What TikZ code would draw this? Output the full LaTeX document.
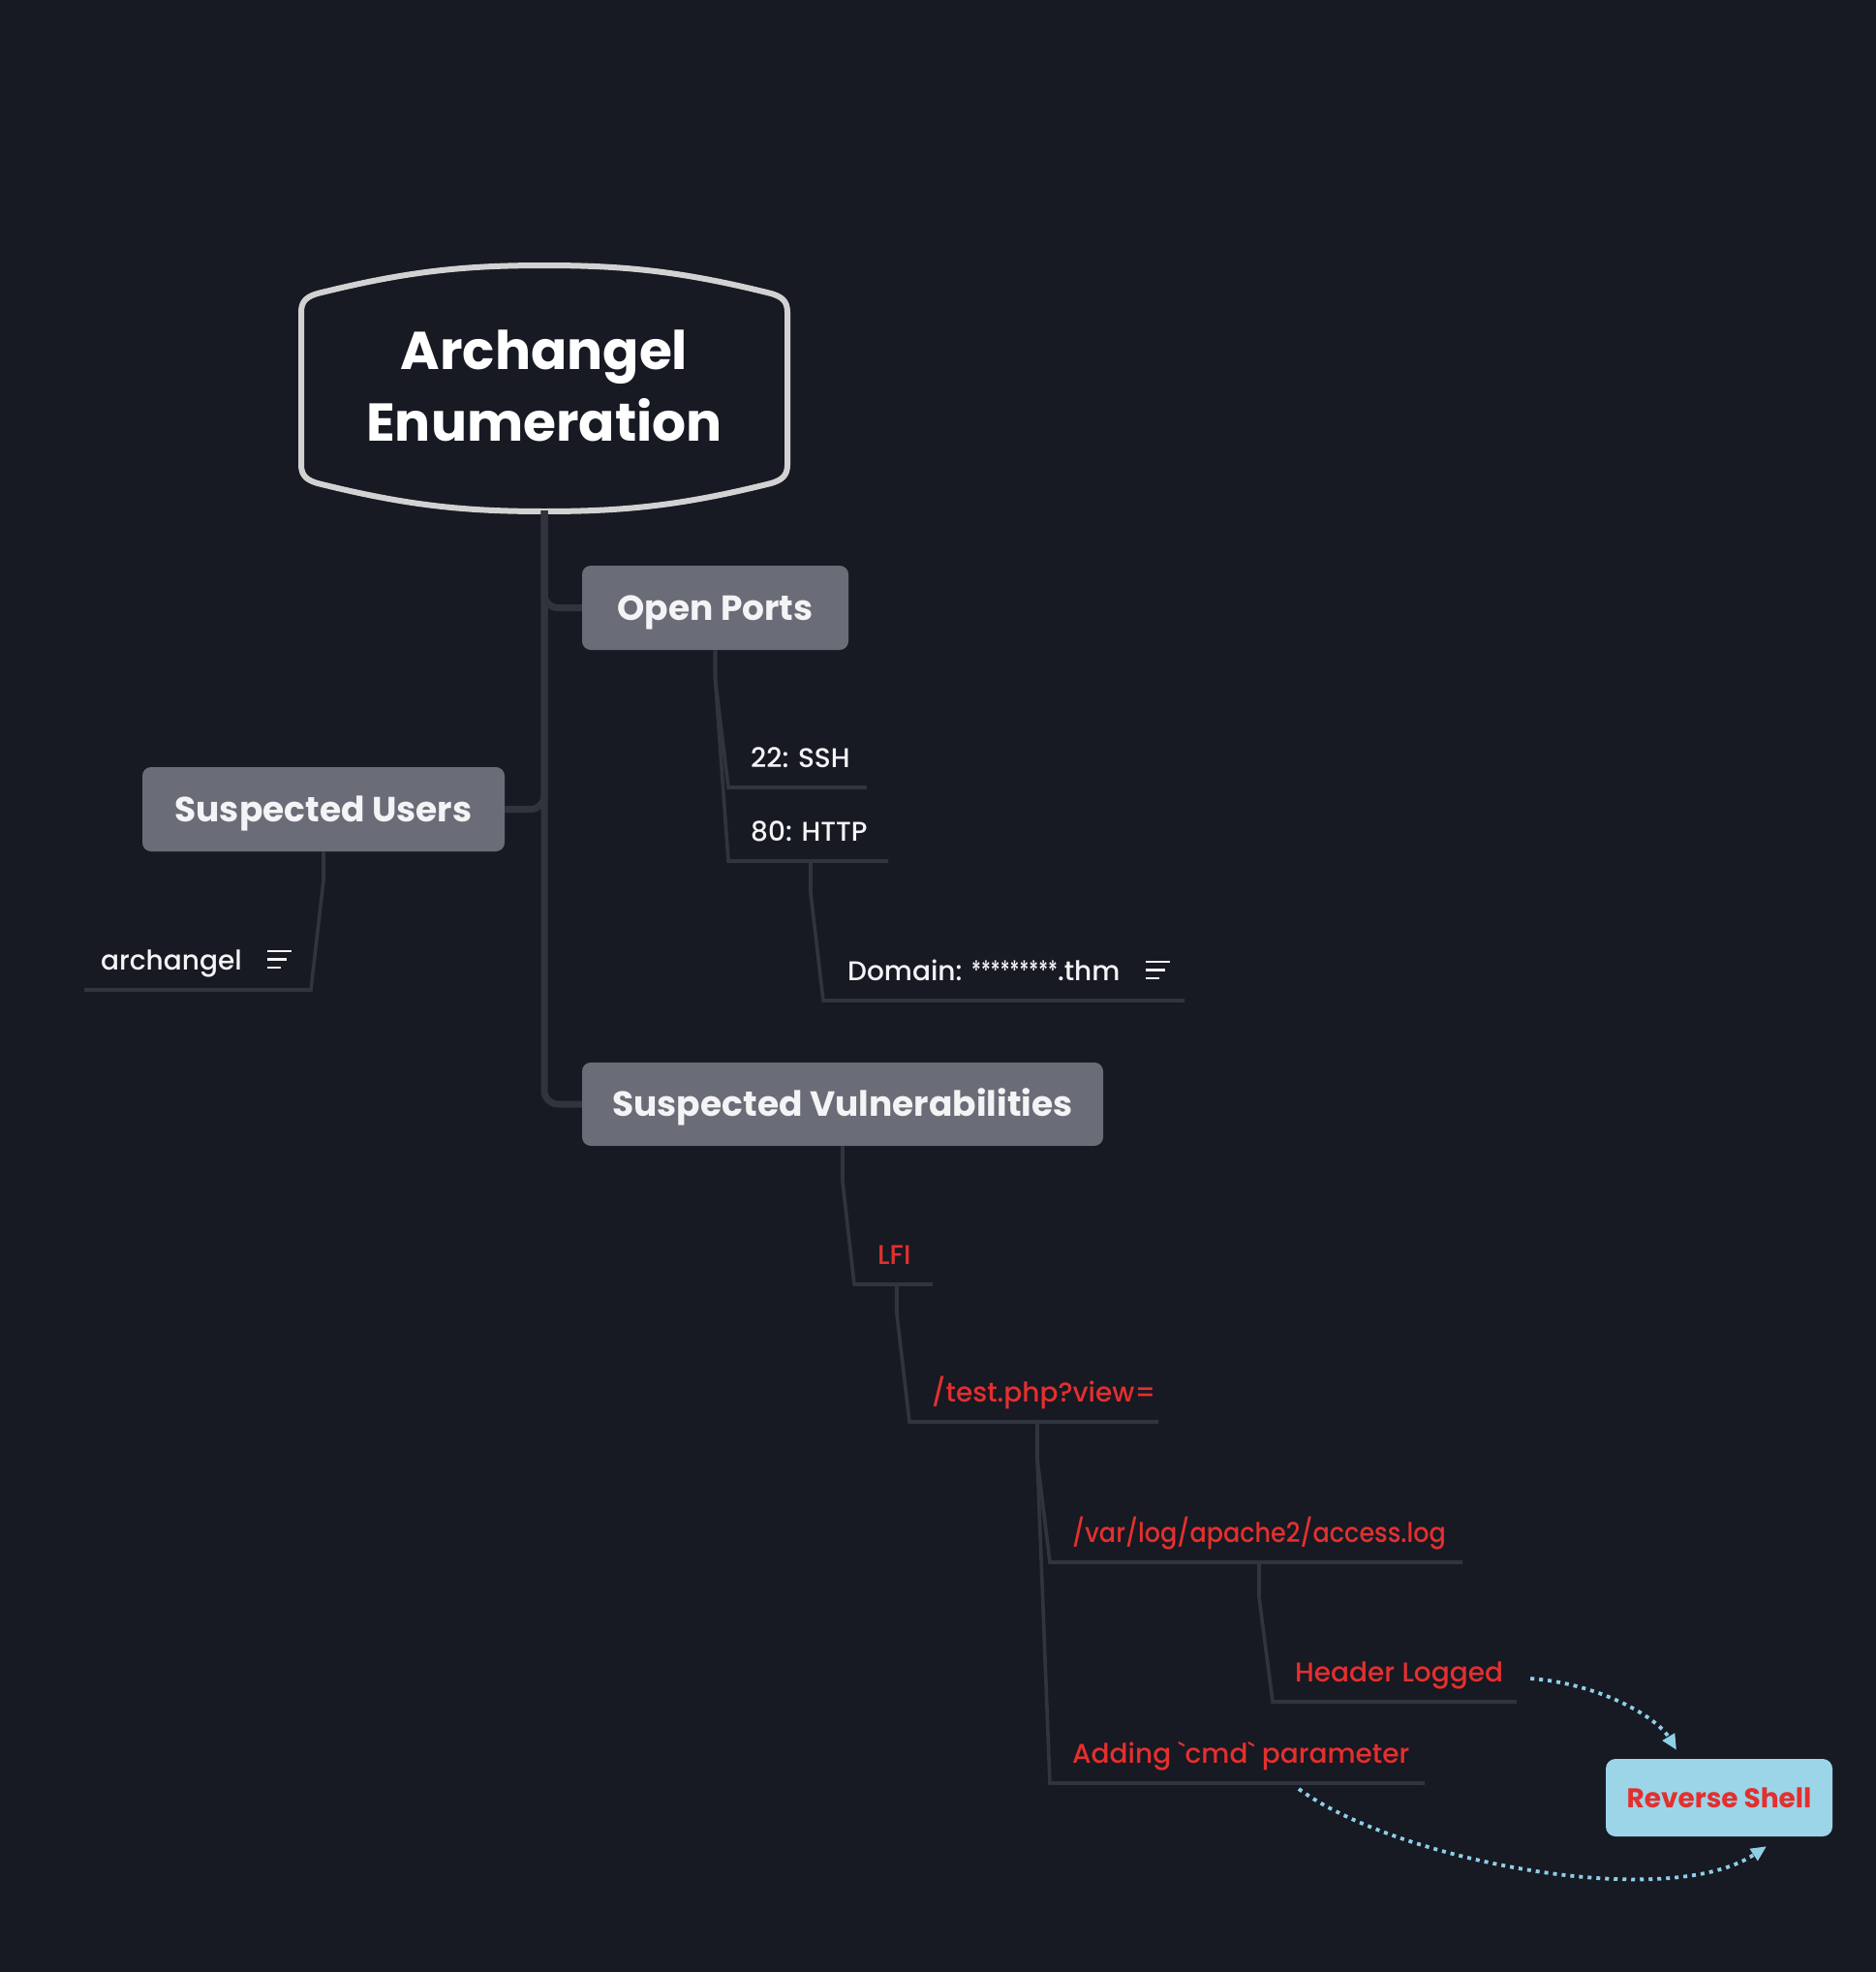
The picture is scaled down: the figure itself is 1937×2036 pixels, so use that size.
\documentclass[tikz,border=0pt]{standalone}
\usepackage{fontspec}
\usetikzlibrary{arrows.meta,calc}
\setmainfont{Poppins}
\newfontfamily\fbold{Poppins}[UprightFont=* Bold]
\newfontfamily\fsemi{Poppins}[UprightFont=* SemiBold]
\newfontfamily\fmed{Poppins}[UprightFont=* Medium]
\definecolor{bg}{HTML}{171923}
\definecolor{boxgrey}{HTML}{6A6D77}
\definecolor{conn}{HTML}{31343E}
\definecolor{rootline}{HTML}{D2D2D2}
\definecolor{vred}{HTML}{E3302E}
\definecolor{rsfill}{HTML}{9CD5E8}
\definecolor{arrowblue}{HTML}{8ECFE6}
\definecolor{txtwhite}{HTML}{F4F4F6}
\newcommand\noteicon[1]{%
  \draw[txtwhite, line width=2.6pt] ($(#1.base east)+(26,-19)$) -- ++(25,0);
  \draw[txtwhite, line width=2.6pt] ($(#1.base east)+(26,-10.5)$) -- ++(20,0);
  \draw[txtwhite, line width=2.6pt] ($(#1.base east)+(26,-2)$) -- ++(14,0);
}
\begin{document}
\begin{tikzpicture}[x=1pt,y=-1pt,
  mainbox/.style={fill=boxgrey, rounded corners=9pt, inner sep=0pt, text=txtwhite,
    text height=25pt, text depth=0pt,
    font=\fbold\fontsize{36}{40}\selectfont},
  leaf/.style={anchor=base west, inner sep=0pt, text=txtwhite,
    font=\fmed\fontsize{28}{32}\selectfont},
  redleaf/.style={leaf, text=vred},
  trunk/.style={draw=conn, line width=7pt, rounded corners=14pt},
  twig/.style={draw=conn, line width=3.6pt, line join=miter},
  dotarrow/.style={draw=arrowblue, line width=3.8pt, dash pattern=on 4pt off 5pt,
    -{Triangle[length=16pt,width=14pt]}},
]
\fill[bg] (0,0) rectangle (1937,2036);
\useasboundingbox (0,0) rectangle (1937,2036);

% root
\draw[rootline, line width=6pt, fill=bg]
  (311,322) .. controls (311,310) and (318,306) .. (328,303)
  .. controls (420,280) and (480,274) .. (562,274)
  .. controls (644,274) and (704,280) .. (796,303)
  .. controls (806,306) and (813,310) .. (813,322)
  -- (813,480)
  .. controls (813,492) and (806,496) .. (796,499)
  .. controls (704,522) and (644,528) .. (562,528)
  .. controls (480,528) and (420,522) .. (328,499)
  .. controls (318,496) and (311,492) .. (311,480) -- cycle;
\node[minimum width=502pt, minimum height=254pt, inner sep=0pt, align=center,
  text=white, font=\fbold\fontsize{55}{74}\selectfont] (root) at (562,398)
  {Archangel\\Enumeration};

% main boxes
\node[mainbox, minimum width=275pt, minimum height=87pt] (op) at (738.5,627.5) {Open Ports};
\node[mainbox, minimum width=374pt, minimum height=87pt] (users) at (334,835.5) {Suspected Users};
\node[mainbox, minimum width=538pt, minimum height=86pt] (vulns) at (870,1140) {Suspected Vulnerabilities};

% trunk connectors
\draw[trunk] (root.south) ++(0,2) |- (op.west);
\draw[trunk] (root.south) ++(0,2) |- (users.east);
\draw[trunk] (root.south) ++(0,2) |- (vulns.west);

% leaves
\node[leaf] (ssh) at (775,792) {22: SSH};
\coordinate (sshL) at (752,813); \coordinate (sshR) at (895,813);
\node[leaf] (http) at (775,868) {80: HTTP};
\coordinate (httpL) at (752,889); \coordinate (httpR) at (917,889);
\node[leaf] (dom) at (875,1012) {Domain: \scalebox{0.7}[1]{*********}.thm};
\coordinate (domL) at (850,1033); \coordinate (domR) at (1223,1033);
\noteicon{dom}

\node[leaf] (arch) at (104,1001) {archangel};
\coordinate (archR) at (321,1022); \coordinate (archL) at (87,1022);
\noteicon{arch}

\node[redleaf] (lfi) at (906,1305) {LFI};
\coordinate (lfiL) at (882,1326); \coordinate (lfiR) at (963,1326);
\node[redleaf] (test) at (962,1447) {/test.php?view=};
\coordinate (testL) at (939,1468); \coordinate (testR) at (1196,1468);
\node[redleaf] (acc) at (1107,1592) {\scalebox{0.91}[1]{/var/log/apache2/access.log}};
\coordinate (accL) at (1084,1613); \coordinate (accR) at (1510,1613);
\node[redleaf] (cmd) at (1107,1820) {Adding \textasciigrave cmd\textasciigrave{} parameter};
\coordinate (cmdL) at (1084,1841); \coordinate (cmdR) at (1471,1841);
\node[redleaf] (hdr) at (1337,1736) {Header Logged};
\coordinate (hdrL) at (1314,1757); \coordinate (hdrR) at (1566,1757);

% twig connectors
\draw[twig] (op.south) -- ++(0,30) -- (sshL) -- (sshR);
\draw[twig] (op.south) -- ++(0,30) -- (httpL) -- (httpR);
\draw[twig] (837,889) -- (837,922) -- (domL) -- (domR);
\draw[twig] (users.south) -- ++(0,30) -- (archR) -- (archL);
\draw[twig] (vulns.south) -- ++(0,37) -- (lfiL) -- (lfiR);
\draw[twig] (926,1326) -- (926,1357) -- (testL) -- (testR);
\draw[twig] (1071,1468) -- (1071,1506) -- (accL) -- (accR);
\draw[twig] (1071,1506) -- (cmdL) -- (cmdR);
\draw[twig] (1300,1613) -- (1300,1649) -- (hdrL) -- (hdrR);

% reverse shell
\node[fill=rsfill, rounded corners=10pt, minimum width=234pt, minimum height=80pt,
  inner sep=0pt, text=vred, font=\fbold\fontsize{28}{32}\selectfont] (rs) at (1775,1856) {Reverse Shell};

\coordinate (a1s) at ($(hdr.base east)+(28,-3)$);
\coordinate (a1e) at ($(rs.north)+(-44,-9)$);
\draw[dotarrow] (a1s) .. controls (1650,1738) and (1710,1772) .. (a1e);
\coordinate (a2s) at (1341,1847);
\coordinate (a2e) at ($(rs.south)+(49,10)$);
\draw[dotarrow] (a2s) .. controls (1440,1920) and (1720,1975) .. (a2e);
\end{tikzpicture}
\end{document}
